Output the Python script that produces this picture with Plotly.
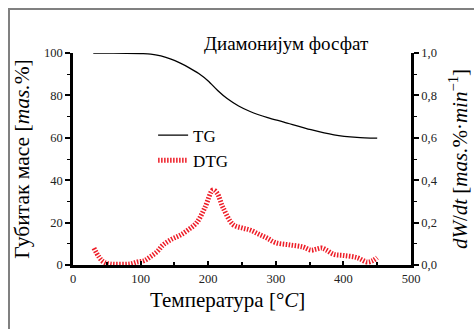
import plotly.graph_objects as go

# TG data (mass %, left axis)
tg_T = [30, 60, 100, 115, 130, 145, 158, 172, 186, 200, 214, 228, 245, 262, 288, 312, 352, 386, 420, 450]
tg_W = [100, 99.9, 99.7, 99.5, 98.6, 97.1, 95.3, 93.0, 90.3, 86.8, 82.3, 78.5, 75.0, 72.4, 69.5, 67.4, 63.8, 61.4, 60.2, 59.8]

# DTG data (right axis)
dtg_T = [31, 38, 45, 55, 70, 85, 95, 105, 114, 125, 133, 145, 158, 170, 183, 195, 207, 213, 222, 237,
         250, 262, 275, 287, 300, 320, 340, 352, 360, 368, 375, 386, 400, 420, 435, 443, 450]
dtg_V = [0.08, 0.04, 0.015, 0.005, 0.003, 0.005, 0.014, 0.02, 0.038, 0.065, 0.094, 0.12, 0.14, 0.165, 0.2,
         0.27, 0.354, 0.34, 0.27, 0.19, 0.175, 0.165, 0.145, 0.127, 0.105, 0.095, 0.085, 0.07, 0.075, 0.08,
         0.07, 0.05, 0.045, 0.035, 0.014, 0.02, 0.035]

x_ticks = [0, 100, 200, 300, 400, 500]
left_ticks = [0, 20, 40, 60, 80, 100]
right_ticks = [0.0, 0.2, 0.4, 0.6, 0.8, 1.0]

FONT = "Liberation Serif"

fig = go.Figure()
fig.add_trace(go.Scatter(x=tg_T, y=tg_W, mode="lines", name="TG",
                         line=dict(color="black", width=1.3, shape="spline", smoothing=0.8), yaxis="y"))
fig.add_trace(go.Scatter(x=dtg_T, y=dtg_V, mode="lines", name="DTG",
                         line=dict(color="rgb(238,30,40)", width=5, dash="1.5px,1.5px", shape="spline"),
                         yaxis="y2"))

axis_common = dict(showgrid=False, zeroline=False, showline=True, linecolor="black", linewidth=2.5,
                   tickfont=dict(family=FONT, size=12.5, color="#222"), tickcolor="black",
                   automargin=False)

fig.update_layout(
    width=474, height=329,
    margin=dict(l=73, r=63, t=53, b=64),
    paper_bgcolor="white", plot_bgcolor="white",
    separators=",.",
    font=dict(family=FONT, color="black"),
    showlegend=True,
    legend=dict(x=0.237, y=0.695, xanchor="left", yanchor="top", bgcolor="rgba(0,0,0,0)",
                font=dict(family=FONT, size=17), tracegroupgap=0, itemwidth=30),
    xaxis=dict(range=[0, 500], tickvals=x_ticks, ticks="inside", ticklen=4, tickwidth=1.5,
               minor=dict(dtick=50, ticks="inside", ticklen=3, tickwidth=2, tickcolor="black"),
               **axis_common),
    yaxis=dict(range=[0, 100], tickvals=left_ticks, ticks="outside", ticklen=5, tickwidth=1.5,
               minor=dict(dtick=10, ticks="outside", ticklen=3, tickwidth=1.2, tickcolor="black"),
               title=dict(text="Губитак масе [<i>mas.</i>%]", font=dict(family=FONT, size=21.5), standoff=9),
               **axis_common),
    yaxis2=dict(range=[0, 1.0], tickvals=right_ticks, tickformat=".1f", overlaying="y", side="right",
                ticks="outside", ticklen=5, tickwidth=1.5,
                minor=dict(dtick=0.1, ticks="outside", ticklen=3, tickwidth=1.2, tickcolor="black"),
                title=dict(text="<i>dW</i>/<i>dt</i> [<i>mas.</i>%·<i>min</i><sup>−1</sup>]",
                           font=dict(family=FONT, size=21), standoff=16),
                **axis_common),
    annotations=[dict(text="Диамонијум фосфат", xref="paper", yref="paper",
                      x=(286 - 73) / 338, y=(265 - 44) / 212, xanchor="center", yanchor="middle",
                      showarrow=False, font=dict(family=FONT, size=19, color="black")),
                 dict(text="Температура [°<i>C</i>]", xref="paper", yref="paper",
                      x=(227 - 73) / 338, y=(265 - 300) / 212, xanchor="center", yanchor="middle",
                      showarrow=False, font=dict(family=FONT, size=21, color="black"))],
    shapes=[dict(type="rect", xref="paper", yref="paper",
                 x0=(9 - 73) / 338, x1=2.0, y0=-2.0, y1=(265 - 9) / 212,
                 line=dict(color="#808080", width=2), fillcolor="rgba(0,0,0,0)", layer="below")],
)

fig.write_html("out.html")
